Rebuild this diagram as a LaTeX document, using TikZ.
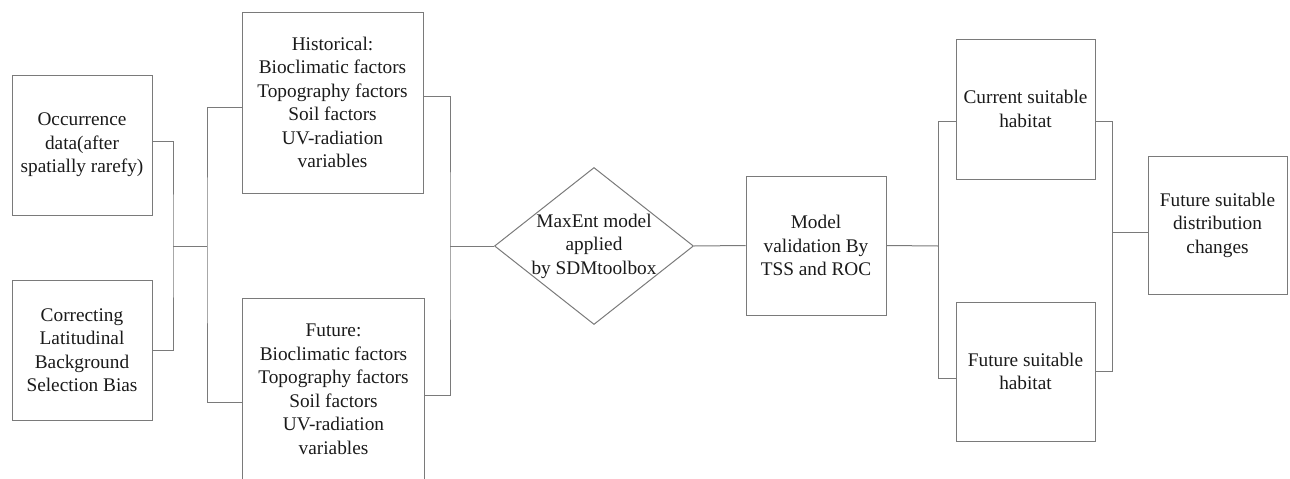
\documentclass[tikz,border=0pt]{standalone}
\usepackage{fontspec}
\setmainfont{Liberation Serif}
\usetikzlibrary{shapes.geometric}
\definecolor{linegray}{HTML}{7A7A7A}
\definecolor{txt}{HTML}{1A1A1A}
\begin{document}
\begin{tikzpicture}[x=1pt,y=-1pt,
  box/.style={draw=linegray, line width=1pt, rectangle, inner sep=0pt, align=center, text=txt,
    font=\fontsize{19.3}{23.5}\selectfont},
  conn/.style={draw=linegray, line width=1pt}]
\useasboundingbox (0,0) rectangle (1290,479);
\node[box, minimum width=140pt, minimum height=140pt] (occ) at (82,145) {Occurrence\\data(after\\spatially rarefy)};
\node[box, minimum width=140pt, minimum height=140pt] (corr) at (82,350) {Correcting\\Latitudinal\\Background\\Selection Bias};
\node[box, minimum width=181pt, minimum height=181pt] (hist) at (332.5,102.5) {Historical:\\Bioclimatic factors\\Topography factors\\Soil factors\\UV-radiation\\variables};
\node[box, minimum width=182pt, minimum height=182pt] (fut) at (333.5,389.5) {Future:\\Bioclimatic factors\\Topography factors\\Soil factors\\UV-radiation\\variables};
\node[draw=linegray, line width=1pt, diamond, minimum width=199pt, minimum height=157pt, inner sep=0pt] (dia) at (594,246) {};
\node[align=center, text=txt, font=\fontsize{19.3}{23.5}\selectfont, inner sep=0pt] (diatext) at (dia.center) {MaxEnt model\\applied\\by SDMtoolbox};
\node[box, minimum width=140pt, minimum height=139pt] (model) at (816,245.5) {Model\\validation By\\TSS and ROC};
\node[box, minimum width=139pt, minimum height=140pt] (cur) at (1025.5,109) {Current suitable\\habitat};
\node[box, minimum width=139pt, minimum height=139pt] (futh) at (1025.5,371.5) {Future suitable\\habitat};
\node[box, minimum width=139pt, minimum height=138pt] (final) at (1217.5,225) {Future suitable\\distribution\\changes};
\coordinate (j1) at (173,246);
\coordinate (j2) at (207,246);
\coordinate (j3) at (450,246);
\coordinate (j4) at (938,246);
\coordinate (j5) at (1112,232);
\draw[conn] (occ.east |- 0,141) -| (j1) |- (corr.east);
\draw[conn] (j1) -- (j2);
\draw[conn] (hist.west |- 0,107) -| (j2) |- (fut.west |- 0,402);
\draw[conn] (hist.east |- 0,96) -| (j3) |- (fut.east |- 0,395);
\draw[conn] (j3) -- (dia.west);
\draw[conn] (dia.east) -- (model.west);
\draw[conn] (model.east) -- (j4);
\draw[conn] (cur.west |- 0,121) -| (j4) |- (futh.west |- 0,378);
\draw[conn] (cur.east |- 0,121) -| (j5) |- (futh.east |- 0,371);
\draw[conn] (j5) -- (final.west |- j5);
\end{tikzpicture}
\end{document}
